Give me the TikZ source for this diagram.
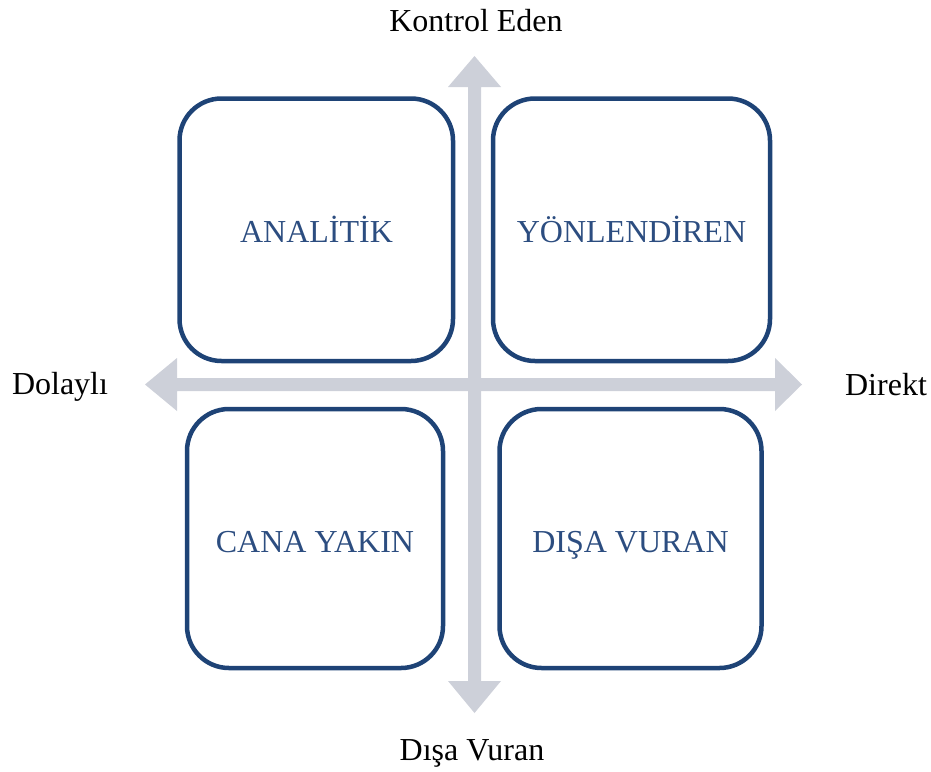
\documentclass[tikz,border=0pt]{standalone}
\usepackage{fontspec}
\setmainfont{Liberation Serif}
\definecolor{boxblue}{RGB}{30,67,118}
\definecolor{txtblue}{RGB}{44,77,128}
\definecolor{axisgray}{RGB}{205,208,217}
\tikzset{
  quad/.style={draw=boxblue, line width=4.5pt, rounded corners=42pt},
  quadtext/.style={anchor=base, text=txtblue, font=\fontsize{32}{36}\selectfont, inner sep=0pt},
  axislabel/.style={anchor=base, text=black, font=\fontsize{32}{36}\selectfont, inner sep=0pt},
  axisarrow/.style={fill=axisgray, draw=none}
}
\begin{document}
\begin{tikzpicture}[x=1pt, y=-1pt]
\useasboundingbox (0,0) rectangle (931,771);
% axes
\fill[axisgray] (468,87) -- (448,87) -- (474.5,56) -- (501,87) -- (481,87) -- (481,681) -- (501,681) -- (474.5,713) -- (448,681) -- (468,681) -- cycle;
\fill[axisgray] (177,378) -- (177,358) -- (145,384.5) -- (177,411) -- (177,391) -- (775,391) -- (775,411) -- (802,384.5) -- (775,358) -- (775,378) -- cycle;
% boxes
\draw[quad] (179.5,98.5) rectangle (453,361);
\draw[quad] (493,98.5) rectangle (770,361);
\draw[quad] (187,409) rectangle (443,668);
\draw[quad] (499.5,409) rectangle (761.5,668);
\node[quadtext] (an) at (316.5,242) {ANALİTİK};
\node[quadtext] (yo) at (631.5,242) {YÖNLENDİREN};
\node[quadtext] (ca) at (315,552) {CANA YAKIN};
\node[quadtext] (di) at (630.5,552) {DIŞA VURAN};
\node[axislabel] (ke) at (476,31) {Kontrol Eden};
\node[axislabel] (dv) at (472,760) {Dışa Vuran};
\node[axislabel] (do) at (60,394) {Dolaylı};
\node[axislabel] (dr) at (886,395) {Direkt};
\end{tikzpicture}
\end{document}
